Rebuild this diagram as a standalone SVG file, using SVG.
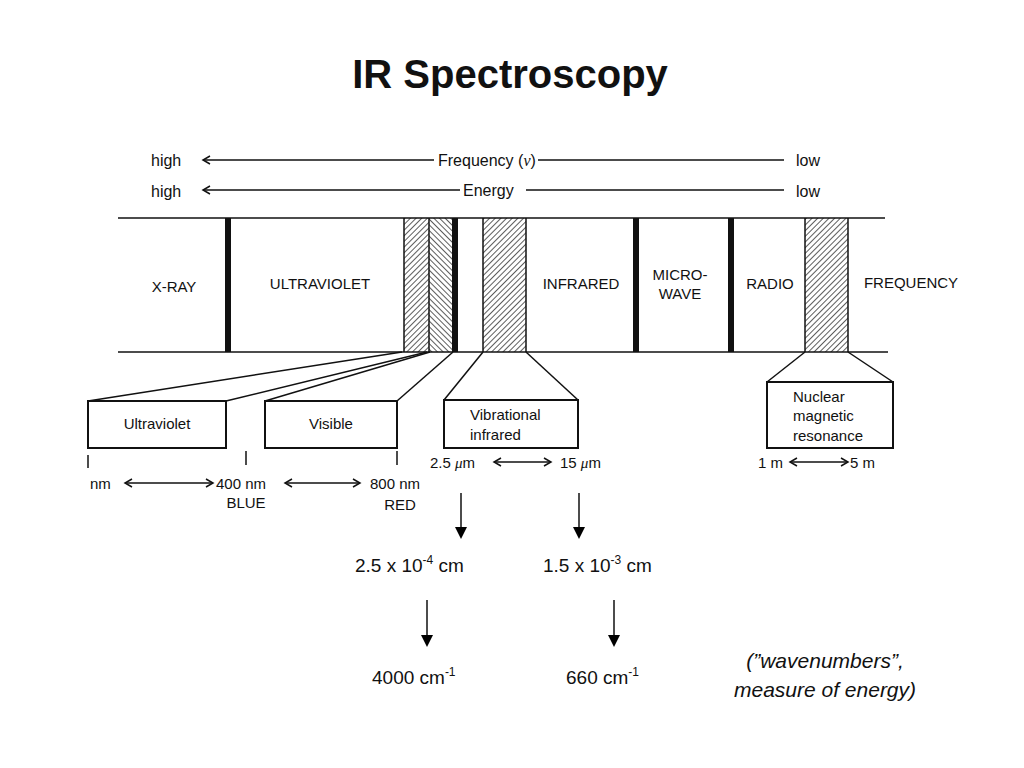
<svg xmlns="http://www.w3.org/2000/svg" width="1024" height="768" viewBox="0 0 1024 768">
<style>
.t{font-family:"Liberation Sans",Arial,sans-serif;fill:#111}
.s{font-size:15px}
.f{font-size:16px}
.m{font-size:19px}
.ln{stroke:#111;stroke-width:1.5;fill:none}
.thk{stroke:#111;stroke-width:6}
.box{fill:#fff;stroke:#111;stroke-width:2}
</style>
<defs>
<pattern id="h1" width="4" height="4" patternUnits="userSpaceOnUse" patternTransform="rotate(45)"><rect width="4" height="4" fill="#fff"/><line x1="0" y1="0" x2="0" y2="4" stroke="#333" stroke-width="1.6"/></pattern>
<pattern id="h2" width="4" height="4" patternUnits="userSpaceOnUse" patternTransform="rotate(-45)"><rect width="4" height="4" fill="#fff"/><line x1="0" y1="0" x2="0" y2="4" stroke="#333" stroke-width="1.6"/></pattern>
<marker id="oa" markerWidth="10" markerHeight="10" refX="8" refY="5" orient="auto-start-reverse" markerUnits="userSpaceOnUse"><path d="M1,1 L8,5 L1,9" fill="none" stroke="#111" stroke-width="1.5"/></marker>
<marker id="da" markerWidth="12" markerHeight="12" refX="10" refY="6" orient="auto" markerUnits="userSpaceOnUse"><path d="M0,0 L12,6 L0,12 Z" fill="#000"/></marker>
</defs>
<rect width="1024" height="768" fill="#fff"/>
<text class="t" x="510" y="88" text-anchor="middle" font-size="40" font-weight="bold">IR Spectroscopy</text>

<g id="scale">
<text class="t f" x="151" y="166">high</text>
<line class="ln" x1="203" y1="160" x2="434" y2="160" marker-start="url(#oa)"/>
<text class="t f" x="438" y="166">Frequency (<tspan font-style="italic" font-family="Liberation Serif">ν</tspan>)</text>
<line class="ln" x1="538" y1="160" x2="784" y2="160"/>
<text class="t f" x="796" y="166">low</text>
<text class="t f" x="151" y="197">high</text>
<line class="ln" x1="203" y1="190" x2="460" y2="190" marker-start="url(#oa)"/>
<text class="t f" x="463" y="196">Energy</text>
<line class="ln" x1="526" y1="190" x2="784" y2="190"/>
<text class="t f" x="796" y="197">low</text>
</g>

<g id="band">
<rect x="404" y="218" width="25" height="134" fill="url(#h1)"/>
<rect x="429" y="218" width="24" height="134" fill="url(#h2)"/>
<rect x="483" y="218" width="43" height="134" fill="url(#h1)"/>
<rect x="805" y="218" width="43" height="134" fill="url(#h1)"/>
<line class="ln" x1="118" y1="218" x2="885" y2="218" stroke-width="2"/>
<line class="ln" x1="118" y1="352" x2="888" y2="352" stroke-width="2.5"/>
<line class="thk" x1="228" y1="218" x2="228" y2="352" stroke-width="5"/>
<line class="thk" x1="455" y1="218" x2="455" y2="352" stroke-width="5"/>
<line class="thk" x1="636" y1="218" x2="636" y2="352" stroke-width="5"/>
<line class="thk" x1="731" y1="218" x2="731" y2="352" stroke-width="5"/>
<line class="ln" x1="404" y1="218" x2="404" y2="352"/>
<line class="ln" x1="429" y1="218" x2="429" y2="352"/>
<line class="ln" x1="483" y1="218" x2="483" y2="352"/>
<line class="ln" x1="526" y1="218" x2="526" y2="352"/>
<line class="ln" x1="805" y1="218" x2="805" y2="352"/>
<line class="ln" x1="848" y1="218" x2="848" y2="352"/>
<text class="t s" x="174" y="292" text-anchor="middle">X-RAY</text>
<text class="t s" x="320" y="289" text-anchor="middle">ULTRAVIOLET</text>
<text class="t s" x="581" y="289" text-anchor="middle">INFRARED</text>
<text class="t s" x="680" y="280" text-anchor="middle">MICRO-</text>
<text class="t s" x="680" y="299" text-anchor="middle">WAVE</text>
<text class="t s" x="770" y="289" text-anchor="middle">RADIO</text>
<text class="t s" x="911" y="288" text-anchor="middle">FREQUENCY</text>
</g>

<g id="connectors">
<line class="ln" x1="88" y1="401" x2="402" y2="352"/>
<line class="ln" x1="226" y1="401" x2="427" y2="352"/>
<line class="ln" x1="265" y1="401" x2="430" y2="352"/>
<line class="ln" x1="397" y1="401" x2="453" y2="352"/>
<line class="ln" x1="444" y1="400" x2="483" y2="352"/>
<line class="ln" x1="578" y1="400" x2="526" y2="352"/>
<line class="ln" x1="767" y1="382" x2="805" y2="352"/>
<line class="ln" x1="893" y1="382" x2="848" y2="352"/>
<line class="ln" x1="461" y1="493" x2="461" y2="537" stroke-width="2" marker-end="url(#da)"/>
<line class="ln" x1="579" y1="493" x2="579" y2="537" stroke-width="2" marker-end="url(#da)"/>
<line class="ln" x1="427" y1="600" x2="427" y2="645" stroke-width="2" marker-end="url(#da)"/>
<line class="ln" x1="614" y1="600" x2="614" y2="645" stroke-width="2" marker-end="url(#da)"/>
</g>

<g id="uv"><rect class="box" x="88" y="401" width="138" height="47"/><text class="t s" x="157" y="429" text-anchor="middle">Ultraviolet</text></g>
<g id="vis"><rect class="box" x="265" y="401" width="132" height="47"/><text class="t s" x="331" y="429" text-anchor="middle">Visible</text></g>
<g id="vib"><rect class="box" x="444" y="400" width="134" height="48"/><text class="t s" x="470" y="420">Vibrational</text><text class="t s" x="470" y="440">infrared</text></g>
<g id="nmr"><rect class="box" x="767" y="382" width="126" height="66"/><text class="t s" x="793" y="402">Nuclear</text><text class="t s" x="793" y="421">magnetic</text><text class="t s" x="793" y="441">resonance</text></g>

<g id="ranges">
<line class="ln" x1="88" y1="455" x2="88" y2="468"/>
<line class="ln" x1="246" y1="451" x2="246" y2="465"/>
<line class="ln" x1="397" y1="451" x2="397" y2="465"/>
<text class="t s" x="90" y="489">nm</text>
<line class="ln" x1="125" y1="483" x2="213" y2="483" marker-start="url(#oa)" marker-end="url(#oa)"/>
<text class="t s" x="216" y="489">400 nm</text>
<text class="t s" x="246" y="508" text-anchor="middle">BLUE</text>
<line class="ln" x1="285" y1="483" x2="360" y2="483" marker-start="url(#oa)" marker-end="url(#oa)"/>
<text class="t s" x="370" y="489">800 nm</text>
<text class="t s" x="400" y="510" text-anchor="middle">RED</text>
<text class="t s" x="430" y="468">2.5 <tspan font-family="Liberation Serif" font-style="italic">μ</tspan>m</text>
<line class="ln" x1="494" y1="462" x2="551" y2="462" marker-start="url(#oa)" marker-end="url(#oa)"/>
<text class="t s" x="560" y="468">15 <tspan font-family="Liberation Serif" font-style="italic">μ</tspan>m</text>
<text class="t s" x="758" y="468">1 m</text>
<line class="ln" x1="790" y1="462" x2="848" y2="462" marker-start="url(#oa)" marker-end="url(#oa)"/>
<text class="t s" x="850" y="468">5 m</text>
</g>

<g id="values">
<text class="t m" x="355" y="572">2.5 x 10<tspan font-size="12" dy="-8">-4</tspan><tspan dy="8"> cm</tspan></text>
<text class="t m" x="543" y="572">1.5 x 10<tspan font-size="12" dy="-8">-3</tspan><tspan dy="8"> cm</tspan></text>
<text class="t m" x="372" y="684">4000 cm<tspan font-size="12" dy="-8">-1</tspan></text>
<text class="t m" x="566" y="684">660 cm<tspan font-size="12" dy="-8">-1</tspan></text>
<text class="t" font-size="21" x="825" y="668" text-anchor="middle" font-style="italic">(”wavenumbers”,</text>
<text class="t" font-size="21" x="825" y="697" text-anchor="middle" font-style="italic">measure of energy)</text>
</g>
</svg>
